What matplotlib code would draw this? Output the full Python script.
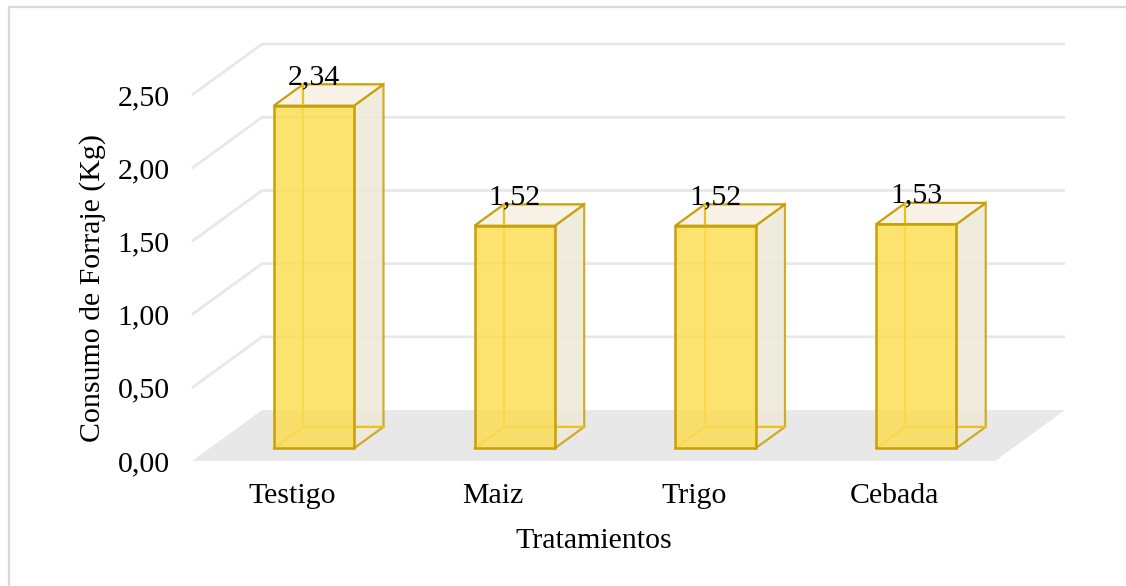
import matplotlib.pyplot as plt
from matplotlib.patches import Polygon, Rectangle

# datos del grafico
categorias = ['Testigo', 'Maiz', 'Trigo', 'Cebada']
consumo = [2.34, 1.52, 1.52, 1.53]
etiquetas = ['2,34', '1,52', '1,52', '1,53']
ticks_y = [0.0, 0.5, 1.0, 1.5, 2.0, 2.5]
ticks_y_txt = ['0,00', '0,50', '1,00', '1,50', '2,00', '2,50']

# desplazamiento oblicuo de la profundidad (en unidades de datos)
DX = 0.349
DY = 0.348
ANCHO = 0.40
D0, D1 = 0.25, 0.67

plt.rcParams['font.family'] = ['Liberation Serif', 'DejaVu Serif']
FS = 21.5


def proy(x, y, d):
    return (x + d * DX, y + d * DY)


fig = plt.figure(figsize=(11.26, 5.86), dpi=100)
ax = fig.add_axes([192 / 1126, 125 / 586, 803 / 1126, 366 / 586])
ax.set_xlim(-0.5, len(categorias) - 0.5)
ax.set_ylim(0, 2.5)
for s in ax.spines.values():
    s.set_visible(False)
ax.patch.set_alpha(0)

xmin, xmax = -0.5, len(categorias) - 0.5

# piso
piso = [proy(xmin, 0, 0), proy(xmax, 0, 0), proy(xmax, 0, 1), proy(xmin, 0, 1)]
ax.add_patch(Polygon(piso, closed=True, fc='#E8E8E8', ec='none', zorder=1, clip_on=False))

# lineas de cuadricula (pared lateral y trasera)
for v in ticks_y[1:]:
    pts = [proy(xmin, v, 0), proy(xmin, v, 1), proy(xmax, v, 1)]
    ax.plot([p[0] for p in pts], [p[1] for p in pts], color='#E8E8E8', lw=2,
            zorder=2, clip_on=False, solid_capstyle='butt')

borde = '#C9A00A'
interior = '#E9C21C'

for i, v in enumerate(consumo):
    x0 = i - ANCHO / 2 + 0.02
    x1 = x0 + ANCHO
    frente = [proy(x0, 0, D0), proy(x1, 0, D0), proy(x1, v, D0), proy(x0, v, D0)]
    lado = [proy(x1, 0, D0), proy(x1, 0, D1), proy(x1, v, D1), proy(x1, v, D0)]
    tapa = [proy(x0, v, D0), proy(x1, v, D0), proy(x1, v, D1), proy(x0, v, D1)]

    ax.add_patch(Polygon(lado, closed=True, fc='#EEE9D8', ec=borde, lw=1.6,
                         alpha=0.85, zorder=3, clip_on=False))
    ax.add_patch(Polygon(tapa, closed=True, fc='#F8F3E6', ec=borde, lw=1.6,
                         zorder=3, clip_on=False))

    # aristas ocultas vistas a traves de la cara frontal
    ocultas = [proy(x0, 0, D0), proy(x0, 0, D1), proy(x1, 0, D1)]
    ax.plot([p[0] for p in ocultas], [p[1] for p in ocultas], color=interior,
            lw=1.6, zorder=4, clip_on=False)
    vert = [proy(x0, 0, D1), proy(x0, v, D1)]
    ax.plot([p[0] for p in vert], [p[1] for p in vert], color=interior,
            lw=1.6, zorder=4, clip_on=False)

    ax.add_patch(Polygon(frente, closed=True, fc='#FCDD55', ec='none',
                         alpha=0.85, zorder=5, clip_on=False))
    ax.add_patch(Polygon(frente, closed=True, fill=False, ec=borde, lw=1.8,
                         zorder=6, clip_on=False))

    cx = (x0 + x1) / 2 + D0 * DX
    ax.text(cx, v + D1 * DY + 0.05, etiquetas[i], ha='center', va='center',
            fontsize=FS, color='black', zorder=7)

ax.set_yticks(ticks_y)
ax.set_yticklabels(ticks_y_txt, fontsize=FS)
ax.set_xticks(range(len(categorias)))
ax.set_xticklabels(categorias, fontsize=FS)
ax.tick_params(axis='y', length=0, pad=16)
ax.tick_params(axis='x', length=0, pad=16)

fig.text(593.7 / 1126, 1 - 548 / 586, 'Tratamientos', ha='center', va='baseline',
         fontsize=FS)
fig.text(93 / 1126, 1 - 288 / 586, 'Consumo de Forraje (Kg)', ha='center',
         va='center', rotation=90, fontsize=FS)

# marco del area del grafico
fig.add_artist(Rectangle((9 / 1126, -0.1), 1.2, 1 - 7 / 586 + 0.1,
                         transform=fig.transFigure, fill=False, ec='#D9D9D9', lw=1.6))

fig.savefig('out.png', dpi=100)
